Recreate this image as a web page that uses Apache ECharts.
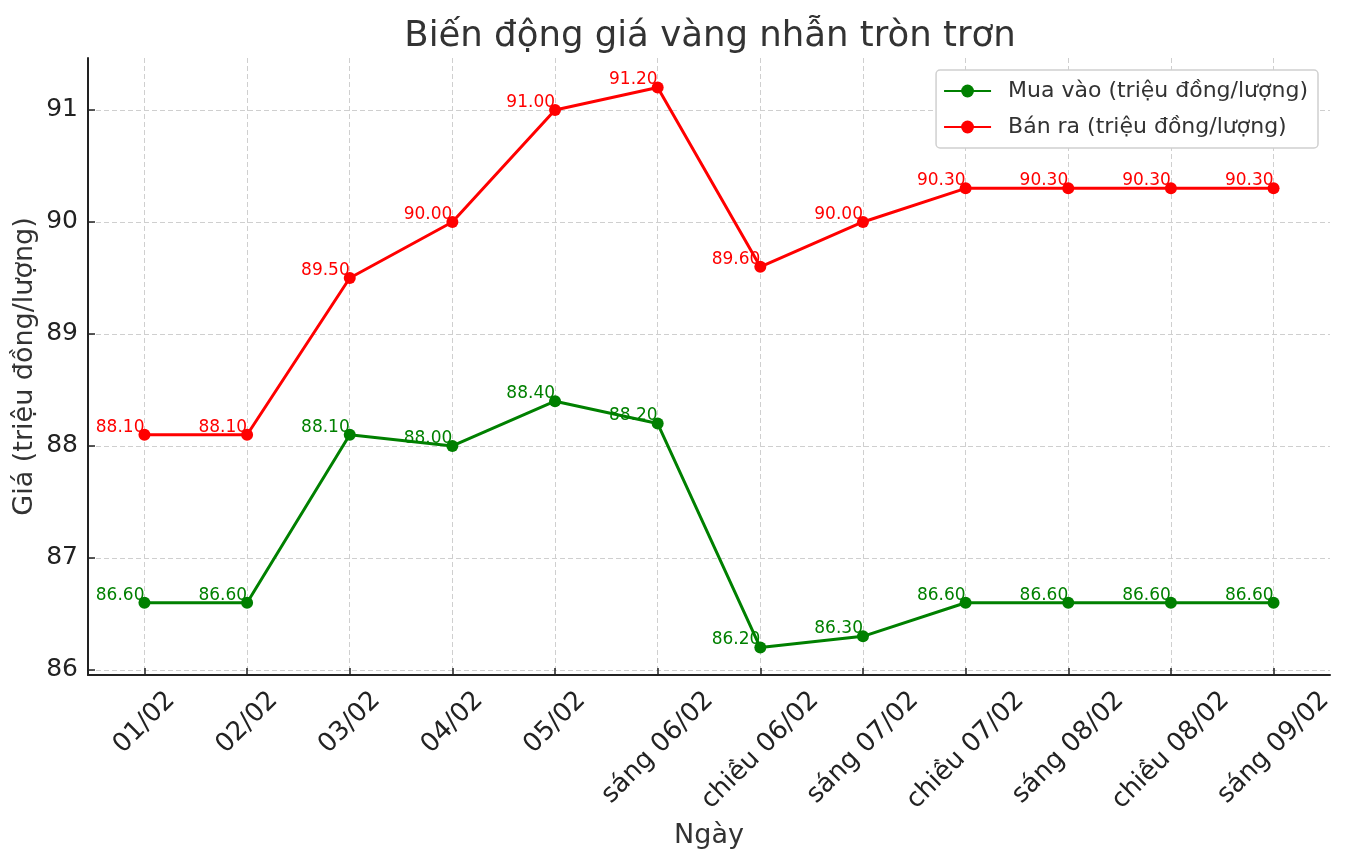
<!DOCTYPE html>
<html>
<head>
<meta charset="utf-8">
<script src="https://cdn.jsdelivr.net/npm/echarts@6/dist/echarts.min.js"></script>
<style>
html,body{margin:0;padding:0;background:#fff;}
#c{width:1347px;height:862px;}
</style>
</head>
<body>
<div id="c"></div>
<script>
const categories = ['01/02','02/02','03/02','04/02','05/02','sáng 06/02','chiều 06/02','sáng 07/02','chiều 07/02','sáng 08/02','chiều 08/02','sáng 09/02'];
const buyValues = [86.6, 86.6, 88.1, 88.0, 88.4, 88.2, 86.2, 86.3, 86.6, 86.6, 86.6, 86.6];
const sellValues = [88.1, 88.1, 89.5, 90.0, 91.0, 91.2, 89.6, 90.0, 90.3, 90.3, 90.3, 90.3];
const yTicks = [86, 87, 88, 89, 90, 91];
const buyName = 'Mua vào (triệu đồng/lượng)';
const sellName = 'Bán ra (triệu đồng/lượng)';

const FONT = '"DejaVu Sans", sans-serif';
const XFS = 26;
const xIdx = categories.map((_, i) => i);

// layout of the plot area (matplotlib-like 5% x margins)
const GL = 88, GR = 17, GT = 58, GB = 187, W = 1347;
const XMARGIN = 0.55;
const plotW = W - GL - GR;
const step = plotW / (categories.length - 1 + 2 * XMARGIN);
const catInset = (XMARGIN - 0.5) * step;

// per-label rich padding to emulate centered rotated labels
const mctx = document.createElement('canvas').getContext('2d');
mctx.font = XFS + 'px "DejaVu Sans"';
const rich = {};
categories.forEach((c, i) => {
  const w = mctx.measureText(c).width;
  const p = (w + XFS) / 2;
  rich['l' + i] = { fontSize: XFS, lineHeight: XFS, fontFamily: FONT, color: '#222', padding: [p, p, 0, 0] };
});

function pairs(vals) { return vals.map((v, i) => [i, v]); }

function labelSeries(name, vals, color) {
  return {
    name: name, type: 'scatter', z: 1, silent: true,
    data: pairs(vals), symbolSize: 10,
    itemStyle: { color: 'rgba(0,0,0,0)' },
    label: {
      show: true, position: [5, 6], align: 'right', verticalAlign: 'bottom',
      color: color, fontSize: 17, fontFamily: FONT, lineHeight: 17,
      textBorderWidth: 0, opacity: 1,
      formatter: p => p.value[1].toFixed(2)
    },
    emphasis: { disabled: true }
  };
}
function lineSeries(name, vals, color) {
  return {
    name: name, type: 'line', z: 3, data: pairs(vals),
    symbol: 'circle', symbolSize: 12, showSymbol: true,
    lineStyle: { color: color, width: 3 },
    itemStyle: { color: color },
    label: { show: false },
    emphasis: { disabled: true }
  };
}

const chart = echarts.init(document.getElementById('c'), null, { renderer: 'canvas' });
chart.setOption({
  animation: false,
  backgroundColor: '#fff',
  title: {
    text: 'Biến động giá vàng nhẫn tròn trơn',
    left: 705, top: 14, textAlign: 'center',
    textStyle: { fontFamily: FONT, fontSize: 35.5, fontWeight: 'normal', color: '#333' }
  },
  legend: {
    orient: 'vertical', right: 29, top: 70,
    data: [buyName, sellName],
    itemWidth: 47, itemHeight: 16, itemGap: 14,
    padding: [10, 10, 10, 7],
    borderColor: '#d0d0d0', borderWidth: 1.5, borderRadius: 4,
    backgroundColor: '#fff',
    textStyle: { fontFamily: FONT, fontSize: 22, color: '#333', padding: [0, 0, 0, 12] }
  },
  grid: [
    { left: GL, right: GR, top: GT, bottom: GB, outerBoundsMode: 'none' },
    { left: GL + catInset, right: GR + catInset, top: GT, bottom: GB, outerBoundsMode: 'none' }
  ],
  xAxis: [{
    type: 'value', gridIndex: 0, min: -XMARGIN, max: categories.length - 1 + XMARGIN,
    name: 'Ngày', nameLocation: 'middle', nameGap: 147, nameMoveOverlap: false,
    nameTextStyle: { fontFamily: FONT, fontSize: 27, color: '#333' },
    axisLine: { show: true, onZero: false, lineStyle: { color: '#222', width: 2 } },
    axisTick: { show: true, inside: true, length: 7, customValues: xIdx, lineStyle: { color: '#222', width: 1.5 } },
    axisLabel: { show: false, customValues: xIdx },
    splitLine: { show: true, lineStyle: { color: '#cfcfcf', type: [5, 3], width: 1 } }
  }, {
    type: 'category', gridIndex: 1, data: categories, boundaryGap: true,
    axisLine: { show: false }, axisTick: { show: false }, splitLine: { show: false },
    axisLabel: {
      interval: 0, rotate: 45, align: 'center', verticalAlign: 'middle', margin: 12,
      formatter: (v, i) => '{l' + i + '|' + v + '}',
      rich: rich
    }
  }],
  yAxis: [{
    type: 'value', gridIndex: 0, min: 85.955, max: 91.464,
    name: 'Giá (triệu đồng/lượng)', nameLocation: 'middle', nameGap: 50, nameMoveOverlap: false,
    nameTextStyle: { fontFamily: FONT, fontSize: 27, color: '#333' },
    axisLine: { show: true, onZero: false, lineStyle: { color: '#222', width: 2 } },
    axisTick: { show: true, inside: true, length: 7, customValues: yTicks, lineStyle: { color: '#222', width: 1.5 } },
    axisLabel: { customValues: yTicks, fontFamily: FONT, fontSize: 25, color: '#222', margin: 10, showMinLabel: true, showMaxLabel: true },
    splitLine: { show: true, lineStyle: { color: '#cfcfcf', type: [5, 3], width: 1 } }
  }, {
    type: 'value', gridIndex: 1, show: false, min: 85.955, max: 91.464
  }],
  series: [
    labelSeries('lbl-buy', buyValues, '#008000'),
    labelSeries('lbl-sell', sellValues, '#ff0000'),
    lineSeries(buyName, buyValues, '#008000'),
    lineSeries(sellName, sellValues, '#ff0000')
  ]
});
</script>
</body>
</html>
